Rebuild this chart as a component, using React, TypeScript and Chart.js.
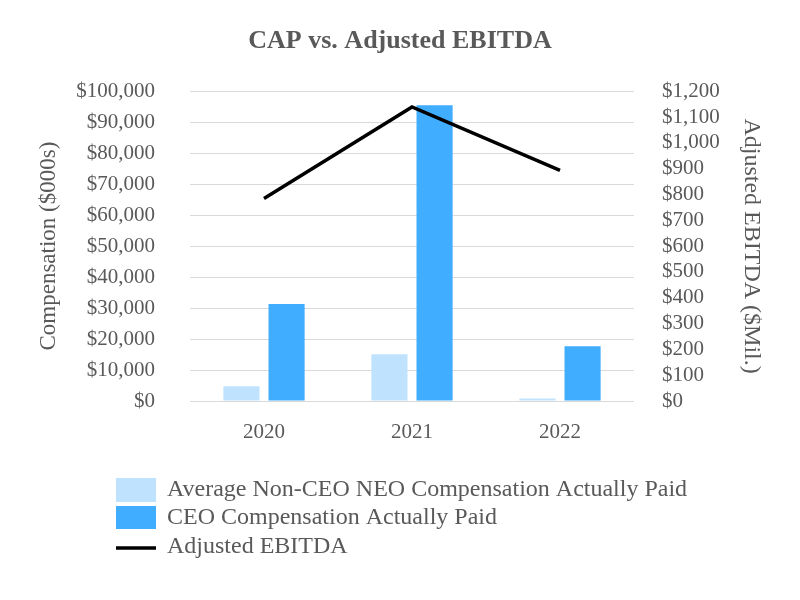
import React, { useEffect, useRef } from "react";
import { Chart, registerables } from "chart.js";

Chart.register(...registerables);

const years = ["2020", "2021", "2022"];
const nonCeoCap = [4800, 15100, 800];
const ceoCap = [31300, 95500, 17700];
const adjustedEbitda = [784, 1139, 893];

const legendLabels = [
  "Average Non-CEO NEO Compensation Actually Paid",
  "CEO Compensation Actually Paid",
  "Adjusted EBITDA",
];

const LIGHT = "#BFE3FE";
const DARK = "#41ADFF";
const TEXT = "#595959";
const FONT = "'Liberation Serif', 'Times New Roman', serif";

const legendPlugin = {
  id: "customLegend",
  afterDraw(chart: any) {
    const ctx = chart.ctx;
    ctx.save();
    ctx.font = `24px ${FONT}`;
    ctx.textBaseline = "middle";
    ctx.textAlign = "left";
    // item 1
    ctx.fillStyle = LIGHT;
    ctx.fillRect(116, 478, 40, 24);
    ctx.fillStyle = TEXT;
    ctx.fillText(legendLabels[0], 167, 490);
    // item 2
    ctx.fillStyle = DARK;
    ctx.fillRect(116, 506, 40, 23);
    ctx.fillStyle = TEXT;
    ctx.fillText(legendLabels[1], 167, 518);
    // item 3
    ctx.strokeStyle = "#000000";
    ctx.lineWidth = 3.5;
    ctx.beginPath();
    ctx.moveTo(116, 548);
    ctx.lineTo(156, 548);
    ctx.stroke();
    ctx.fillStyle = TEXT;
    ctx.fillText(legendLabels[2], 167, 547);
    ctx.restore();
  },
};

export default function App() {
  const ref = useRef<HTMLCanvasElement | null>(null);

  useEffect(() => {
    document.body.style.margin = "0";
    const canvas = ref.current;
    if (!canvas) return;
    const chart = new Chart(canvas, {
      type: "bar",
      data: {
        labels: years,
        datasets: [
          {
            type: "line",
            label: legendLabels[2],
            data: adjustedEbitda,
            yAxisID: "y2",
            borderColor: "#000000",
            backgroundColor: "#000000",
            borderWidth: 3.5,
            pointRadius: 0,
            tension: 0,
            order: 0,
          } as any,
          {
            label: legendLabels[0],
            data: nonCeoCap,
            backgroundColor: LIGHT,
            yAxisID: "y",
            categoryPercentage: 0.61,
            barPercentage: 0.8,
            order: 1,
          },
          {
            label: legendLabels[1],
            data: ceoCap,
            backgroundColor: DARK,
            yAxisID: "y",
            categoryPercentage: 0.61,
            barPercentage: 0.8,
            order: 1,
          },
        ],
      },
      options: {
        responsive: false,
        animation: false,
        layout: { padding: { left: 0, right: 0, top: 0, bottom: 129 } },
        plugins: {
          legend: { display: false },
          tooltip: { enabled: false },
          title: {
            display: true,
            text: "CAP vs. Adjusted EBITDA",
            color: TEXT,
            font: { family: FONT, size: 26, weight: "bold" },
            padding: { top: 26, bottom: 34 },
          },
        },
        scales: {
          x: {
            grid: { display: false },
            border: { display: false },
            ticks: {
              color: TEXT,
              font: { family: FONT, size: 21 },
              padding: 11,
              autoSkip: false,
            },
            afterFit: (s: any) => {
              s.height = 70;
            },
          },
          y: {
            position: "left",
            min: 0,
            max: 100000,
            grid: { color: "#D9D9D9", lineWidth: 1, drawTicks: false },
            border: { display: false },
            ticks: {
              stepSize: 10000,
              autoSkip: false,
              color: TEXT,
              font: { family: FONT, size: 21 },
              padding: 35,
              callback: (v: any) => "$" + Number(v).toLocaleString("en-US"),
            },
            title: {
              display: true,
              text: "Compensation ($000s)",
              color: TEXT,
              font: { family: FONT, size: 23 },
              padding: { top: 35, bottom: 0 },
            },
            afterFit: (s: any) => {
              s.width = 190;
            },
          },
          y2: {
            position: "right",
            min: 0,
            max: 1200,
            grid: { display: false, drawTicks: false },
            border: { display: false },
            ticks: {
              stepSize: 100,
              autoSkip: false,
              color: TEXT,
              font: { family: FONT, size: 21 },
              padding: 28,
              callback: (v: any) => "$" + Number(v).toLocaleString("en-US"),
            },
            title: {
              display: true,
              text: "Adjusted EBITDA ($Mil.)",
              color: TEXT,
              font: { family: FONT, size: 24 },
              padding: { top: 34, bottom: 0 },
            },
            afterFit: (s: any) => {
              s.width = 166;
            },
          },
        },
      },
      plugins: [legendPlugin],
    });
    return () => chart.destroy();
  }, []);

  return (
    <div style={{ width: 800, height: 600 }}>
      <canvas ref={ref} width={800} height={600} />
    </div>
  );
}
